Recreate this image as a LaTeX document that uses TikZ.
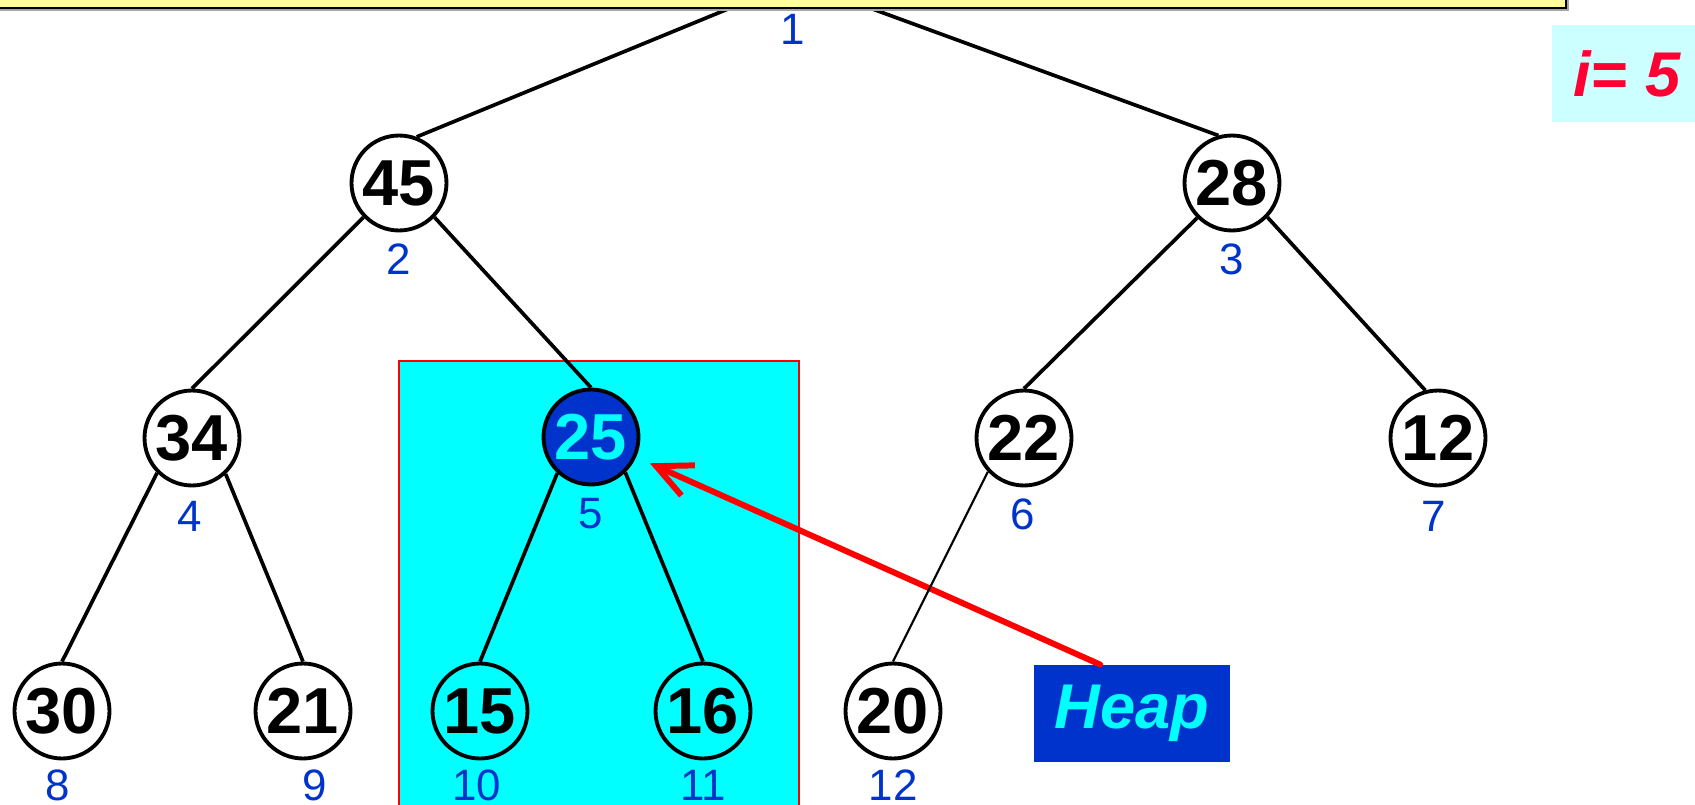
\documentclass[tikz,border=0pt]{standalone}
\usepackage{fontspec}
\setmainfont{Liberation Sans}
\usetikzlibrary{arrows.meta,positioning}

\definecolor{heapblue}{RGB}{0,51,204}
\definecolor{aqua}{RGB}{0,255,255}
\definecolor{paleaqua}{RGB}{204,255,255}
\definecolor{alertred}{RGB}{255,0,51}
\definecolor{banner}{RGB}{255,255,153}

\begin{document}
\begin{tikzpicture}[
    x=0.02cm, y=-0.02cm,
    keynode/.style={circle, draw, line width=2.2pt, fill=white, minimum size=1.9cm,
                inner sep=0pt, font=\fontsize{37}{37}\selectfont\bfseries},
    subnode/.style={keynode, fill=aqua},
    curnode/.style={keynode, fill=heapblue, text=aqua},
    idx/.style={font=\fontsize{25}{25}\selectfont, text=heapblue, inner sep=0pt},
    edge/.style={line width=2.1pt},
    thinedge/.style={line width=1.2pt},
    tag/.style={font=\fontsize{36}{36}\selectfont\bfseries\itshape, inner sep=0pt},
    pointer/.style={-{Straight Barb[length=0.7cm, width=0.66cm]}, line width=3.4pt,
                draw=red, line cap=round, shorten >=0.3cm}
  ]
  \useasboundingbox (0,0) rectangle (1695,805);

  % subtree rooted at 5
  \draw[red, fill=aqua, line width=1.2pt] (399,361) rectangle (799,830);

  \coordinate (root) at (796,-19);
  \foreach \n/\x/\y/\v in {2/399/183/45, 3/1232/183/28, 4/192/438/34, 6/1024/438/22,
                           7/1438/438/12, 8/62/711/30, 9/303/711/21, 12/893/711/20}
    \node[keynode] (n\n) at (\x,\y) {\v};
  \node[curnode] (n5) at (591,437) {25};
  \node[subnode] (n10) at (480,711) {15};
  \node[subnode] (n11) at (703,711) {16};

  % array positions
  \foreach \n/\x/\y in {1/793/29, 2/399/259, 3/1232/259, 4/190/516, 5/591/514, 6/1023/514,
                        7/1434/516, 8/58/785, 9/315/785, 10/477/785, 11/703/785, 12/893/785}
    \node[idx] (i\n) at (\x,\y) {\n};

  \node[tag, fill=heapblue, text=aqua, minimum width=3.92cm, minimum height=1.94cm]
    (heap) at (1132,713.5) {Heap};
  \node[tag, fill=paleaqua, text=alertred, minimum width=3.0cm, minimum height=1.94cm]
    (ivar) at (1627,73.5) {i= 5};

  \draw[pointer] (heap.123) -- (n5);

  \draw[edge] (root) -- (n2.69);
  \draw[edge] (root) -- (n3.106);
  \draw[edge] (n2.224) -- (n4.north);
  \draw[edge] (n2.316) -- (n5.north);
  \draw[edge] (n3.225) -- (n6.north);
  \draw[edge] (n3.316) -- (n7.105);
  \draw[edge] (n4.225) -- (n8.north);
  \draw[edge] (n4.313) -- (n9.north);
  \draw[edge] (n5.227) -- (n10.north);
  \draw[edge] (n5.314) -- (n11.north);
  \draw[thinedge] (n6.223) -- (n12.north);

  % banner along the top, over the root
  \fill[gray!70] (-20,-100) rectangle (1569,11);
  \draw[fill=banner, line width=0.6pt] (-20,-100) rectangle (1566,8);
\end{tikzpicture}
\end{document}
